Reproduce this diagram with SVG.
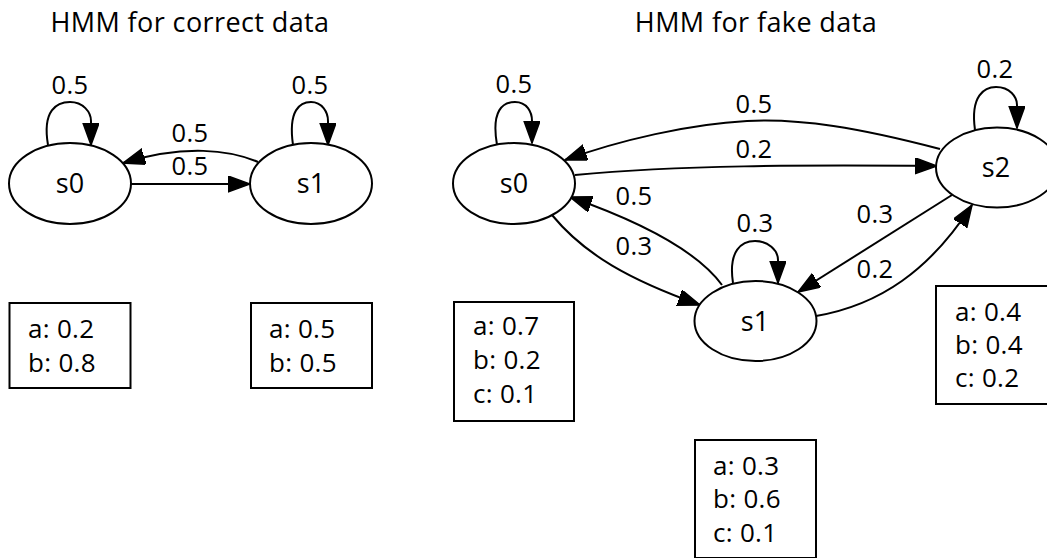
<svg xmlns="http://www.w3.org/2000/svg" width="1047" height="558" viewBox="0 0 1047 558">
<style>
text{font-family:"Open Sans","Noto Sans","Liberation Sans",sans-serif;fill:#000}
.title{font-size:27px;letter-spacing:0.4px;text-anchor:middle}
.lbl{font-size:25.5px;letter-spacing:0.3px;text-anchor:middle}
.node{font-size:27px;text-anchor:middle}
.box{font-size:26px;letter-spacing:0.3px}
ellipse,.emit{fill:#fff;stroke:#000;stroke-width:2}
.edge{fill:none;stroke:#000;stroke-width:2;marker-end:url(#arr)}
</style>
<defs>
<marker id="arr" markerUnits="userSpaceOnUse" markerWidth="24" markerHeight="18" viewBox="0 0 24 18" refX="22" refY="8" orient="auto">
<path d="M0,0 L22,8 L0,16 Z" fill="#000" stroke="#000" stroke-width="1.5"/>
</marker>
</defs>
<rect width="1047" height="558" fill="#fff"/>
<text class="title" x="190" y="32">HMM for correct data</text>
<text class="title" x="756" y="32">HMM for fake data</text>

<g id="connectors">
<path class="edge" d="M48,145 C42,110 57,102 70,102 C83,102 91,112 91,121 L91,145"/>
<path class="edge" d="M293,145 C288,110 300,102 311,102 C322,102 328,112 328,121 L328,145"/>
<path class="edge" d="M131,184 L250,184"/>
<path class="edge" d="M258,162 C230,150 185,144 123,163"/>
<path class="edge" d="M497,145 C491,110 503,102 515,102 C527,102 532,112 532,121 L532,143"/>
<path class="edge" d="M975,130 C970,95 985,87 996,87 C1010,87 1017,97 1017,105 L1017,128"/>
<path class="edge" d="M733,283 C728,250 742,241 755,241 C768,241 778,250 778,260 L778,283"/>
<path class="edge" d="M940,149 C860,128 800,118 747,121 C690,124 620,140 565,160"/>
<path class="edge" d="M575,175 C680,165 800,165 937,166"/>
<path class="edge" d="M722,285 C700,255 650,225 570,197"/>
<path class="edge" d="M552,215 C585,255 630,280 700,305"/>
<path class="edge" d="M952,195 L798,292"/>
<path class="edge" d="M816,316 C880,305 930,270 972,205"/>
<text class="lbl" x="70" y="94">0.5</text>
<text class="lbl" x="310" y="94">0.5</text>
<text class="lbl" x="190" y="142">0.5</text>
<text class="lbl" x="190" y="175">0.5</text>
<text class="lbl" x="514" y="93">0.5</text>
<text class="lbl" x="995" y="78">0.2</text>
<text class="lbl" x="755" y="232">0.3</text>
<text class="lbl" x="754" y="113">0.5</text>
<text class="lbl" x="754" y="158">0.2</text>
<text class="lbl" x="634" y="205">0.5</text>
<text class="lbl" x="634" y="255">0.3</text>
<text class="lbl" x="875" y="223">0.3</text>
<text class="lbl" x="875" y="278">0.2</text>
</g>

<g id="c_s0">
<ellipse cx="70" cy="183.5" rx="61" ry="40.5"/>
<text class="node" x="70" y="193">s0</text>
</g>
<g id="c_s1">
<ellipse cx="311" cy="183.5" rx="61" ry="40.5"/>
<text class="node" x="311" y="193">s1</text>
</g>
<g id="c_e0">
<rect class="emit" x="9.5" y="303" width="121" height="85"/>
<text class="box" x="28" y="338">a: 0.2</text>
<text class="box" x="28" y="372">b: 0.8</text>
</g>
<g id="c_e1">
<rect class="emit" x="251" y="303" width="121" height="85"/>
<text class="box" x="269" y="338">a: 0.5</text>
<text class="box" x="269" y="372">b: 0.5</text>
</g>

<g id="f_s0">
<ellipse cx="514" cy="183.5" rx="61" ry="40.5"/>
<text class="node" x="514" y="193">s0</text>
</g>
<g id="f_s1">
<ellipse cx="755.5" cy="321" rx="61" ry="40"/>
<text class="node" x="755" y="330.5">s1</text>
</g>
<g id="f_s2">
<ellipse cx="997" cy="167.5" rx="61" ry="40"/>
<text class="node" x="996" y="177">s2</text>
</g>
<g id="f_e0">
<rect class="emit" x="454" y="302" width="120" height="119"/>
<text class="box" x="473" y="335">a: 0.7</text>
<text class="box" x="473" y="369">b: 0.2</text>
<text class="box" x="473" y="403">c: 0.1</text>
</g>
<g id="f_e1">
<rect class="emit" x="695" y="440" width="121" height="118"/>
<text class="box" x="713" y="475">a: 0.3</text>
<text class="box" x="713" y="508">b: 0.6</text>
<text class="box" x="713" y="542">c: 0.1</text>
</g>
<g id="f_e2">
<rect class="emit" x="936" y="286" width="121" height="118"/>
<text class="box" x="955" y="321">a: 0.4</text>
<text class="box" x="955" y="354">b: 0.4</text>
<text class="box" x="955" y="387">c: 0.2</text>
</g>
</svg>
